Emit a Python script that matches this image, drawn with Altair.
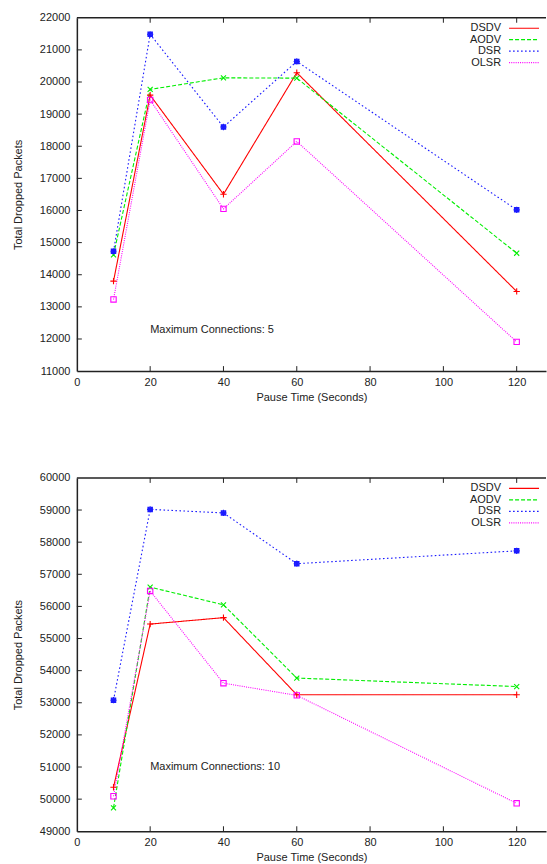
import altair as alt
import pandas as pd

# Pause times (seconds) on the x axis
pause_time = [10, 20, 40, 60, 120]
protocols = ["DSDV", "AODV", "DSR", "OLSR"]

# Total dropped packets, maximum connections: 5
dsdv_c5 = [13800, 19590, 16505, 20290, 13480]
aodv_c5 = [14620, 19770, 20130, 20120, 14670]
dsr_c5 = [14730, 21485, 18600, 20640, 16020]
olsr_c5 = [13230, 19440, 16050, 18150, 11910]

# Total dropped packets, maximum connections: 10
dsdv_c10 = [50370, 55450, 55650, 53250, 53250]
aodv_c10 = [49730, 56600, 56050, 53770, 53505]
dsr_c10 = [53080, 59020, 58910, 57330, 57730]
olsr_c10 = [50090, 56480, 53610, 53230, 49870]

x_ticks = [0, 20, 40, 60, 80, 100, 120]
y_ticks_c5 = list(range(11000, 22001, 1000))
y_ticks_c10 = list(range(49000, 60001, 1000))

note_c5 = ("Maximum Connections: 5", 20, 12270)
note_c10 = ("Maximum Connections: 10", 20, 51010)

colors = ["#ff0000", "#00ee00", "#1a1aff", "#ff00ff"]
dashes = [[1, 0], [4, 2], [1.6, 2.4], [1, 1.2]]
# gnuplot-like point glyphs: plus, cross, asterisk, open square
glyphs = [
    "M-1,0L1,0M0,-1L0,1",
    "M-0.8,-0.8L0.8,0.8M-0.8,0.8L0.8,-0.8",
    "M-1,0L1,0M0,-1L0,1M-0.75,-0.75L0.75,0.75M-0.75,0.75L0.75,-0.75M-0.7,-0.7L0.7,-0.7L0.7,0.7L-0.7,0.7Z",
    "M-0.85,-0.85L0.85,-0.85L0.85,0.85L-0.85,0.85Z",
]
glyph_keys = [p + " point" for p in protocols]

FONT = "Liberation Sans"
INK = "#222222"
W, H = 470, 354


def panel(series, y_ticks, note):
    rows = []
    for name, key, values in zip(protocols, glyph_keys, series):
        for t, v in zip(pause_time, values):
            rows.append({"protocol": name, "glyph": key, "pause": t, "dropped": v})
    df = pd.DataFrame(rows)

    xs = alt.Scale(domain=[0, 128], nice=False, zero=False)
    ys = alt.Scale(domain=[y_ticks[0], y_ticks[-1]], nice=False, zero=False)

    x_enc = alt.X(
        "pause:Q", scale=xs,
        axis=alt.Axis(values=x_ticks, title="Pause Time (Seconds)", ticks=False,
                      grid=False, labelFlush=False, labelOverlap=False, labelPadding=5,
                      titlePadding=4, domainColor=INK, domainWidth=1.5),
    )
    y_enc = alt.Y(
        "dropped:Q", scale=ys,
        axis=alt.Axis(values=y_ticks, title="Total Dropped Packets", ticks=False, format="d",
                      grid=False, labelFlush=False, labelOverlap=False, labelPadding=7,
                      titlePadding=16, domainColor=INK, domainWidth=1.5),
    )
    # long line sample in a compact legend row; labels sit to its left
    legend = alt.Legend(
        orient="none", legendX=442, legendY=4.5, title=None, symbolType="M-3,0H3",
        symbolSize=100, symbolStrokeWidth=1.2, labelAlign="right",
        labelOffset={"expr": "-29"},
        labelFontSize=11, labelFont=FONT, labelColor=INK, padding=0, rowPadding=0.5,
        labelLimit=0,
    )
    color = alt.Color("protocol:N", scale=alt.Scale(domain=protocols, range=colors), legend=legend)
    dash = alt.StrokeDash("protocol:N", scale=alt.Scale(domain=protocols, range=dashes), legend=legend)

    lines = alt.Chart(df).mark_line(strokeWidth=1.1).encode(
        x=x_enc, y=y_enc, color=color, strokeDash=dash
    )
    points = alt.Chart(df).mark_point(filled=False, size=40, strokeWidth=1.1, opacity=1).encode(
        x=x_enc,
        y=y_enc,
        color=color,
        shape=alt.Shape("glyph:N", scale=alt.Scale(domain=glyph_keys, range=glyphs), legend=None),
    )

    label_df = pd.DataFrame({"text": [note[0]], "pause": [note[1]], "dropped": [note[2]]})
    label = alt.Chart(label_df).mark_text(
        align="left", baseline="middle", fontSize=11, font=FONT, color=INK
    ).encode(x=x_enc, y=y_enc, text="text:N")

    # inward tick marks on bottom, top and left borders
    xt = pd.DataFrame({"pause": [t for t in x_ticks if t > 0]})
    yt = pd.DataFrame({"dropped": y_ticks[1:-1]})
    ticks_bottom = alt.Chart(xt).mark_rule(color=INK, strokeWidth=1).encode(
        x=x_enc, y=alt.value(H), y2=alt.value(H - 5)
    )
    ticks_top = alt.Chart(xt).mark_rule(color=INK, strokeWidth=1).encode(
        x=x_enc, y=alt.value(0), y2=alt.value(5)
    )
    ticks_left = alt.Chart(yt).mark_rule(color=INK, strokeWidth=1).encode(
        y=y_enc, x=alt.value(0), x2=alt.value(5)
    )
    top_border = alt.Chart(pd.DataFrame({"k": [0]})).mark_rule(color=INK, strokeWidth=1.5).encode(
        x=alt.value(0), x2=alt.value(W), y=alt.value(0)
    )

    return alt.layer(
        lines, top_border, ticks_bottom, ticks_top, ticks_left, points, label
    ).properties(width=W, height=H)


top = panel([dsdv_c5, aodv_c5, dsr_c5, olsr_c5], y_ticks_c5, note_c5)
bottom = panel([dsdv_c10, aodv_c10, dsr_c10, olsr_c10], y_ticks_c10, note_c10)

chart = (
    alt.vconcat(top, bottom, spacing=70)
    .resolve_scale(color="independent", strokeDash="independent", shape="independent")
    .resolve_legend(color="independent", strokeDash="independent", shape="independent")
    .properties(padding={"left": 12, "top": 11, "right": 0, "bottom": 0}, background="white")
    .configure_view(strokeWidth=0)
    .configure_axis(
        labelFont=FONT, labelFontSize=11, labelColor=INK,
        titleFont=FONT, titleFontSize=11, titleFontWeight="normal", titleColor=INK,
    )
)

chart.save("out.html", embed_options={"renderer": "svg", "actions": False})
